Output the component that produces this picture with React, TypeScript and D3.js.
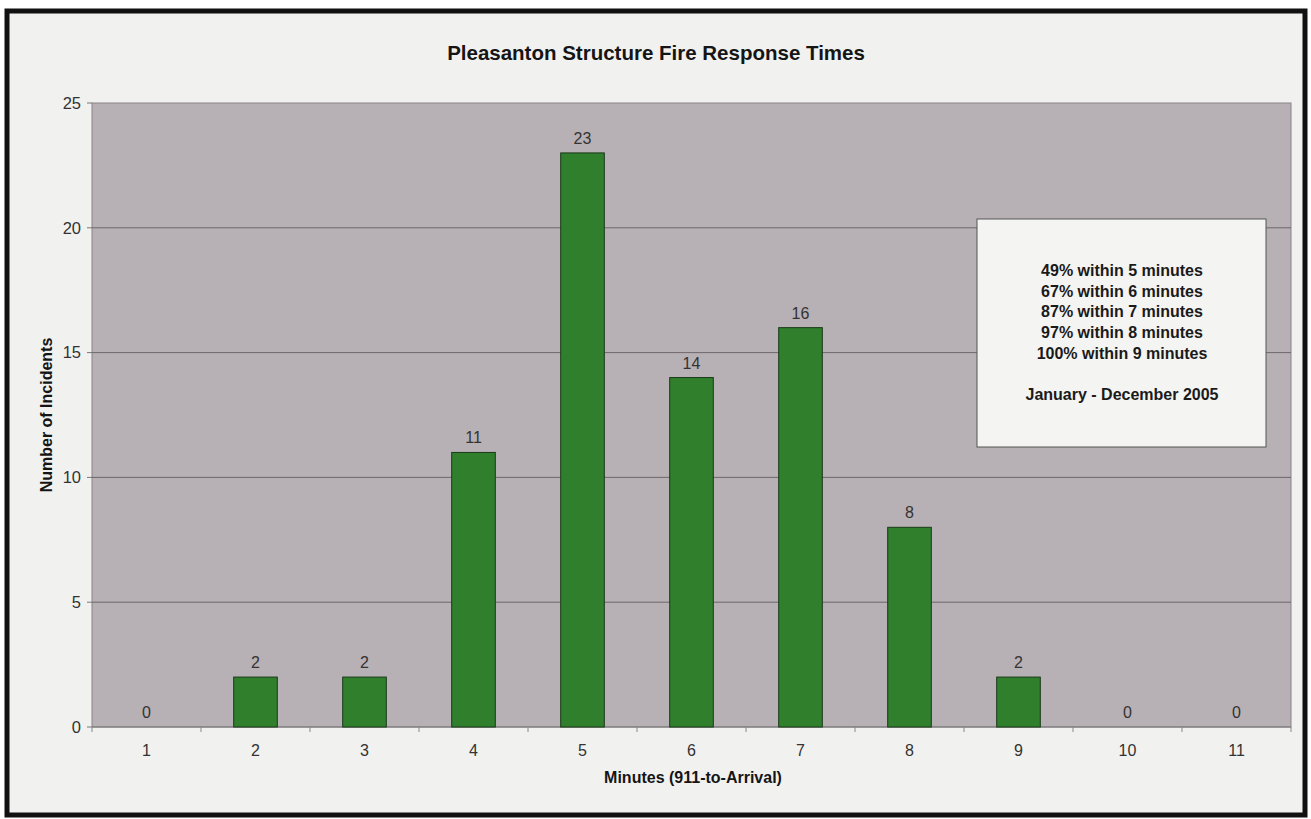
import React from "react";
import * as d3 from "d3";

const categories = ["1", "2", "3", "4", "5", "6", "7", "8", "9", "10", "11"];
const incidents = [0, 2, 2, 11, 23, 14, 16, 8, 2, 0, 0];
const yTicks = [0, 5, 10, 15, 20, 25];
const legendLines = [
  "49% within 5 minutes",
  "67% within 6 minutes",
  "87% within 7 minutes",
  "97% within 8 minutes",
  "100% within 9 minutes",
];
const legendFooter = "January - December 2005";
const title = "Pleasanton Structure Fire Response Times";
const xTitle = "Minutes (911-to-Arrival)";
const yTitle = "Number of Incidents";

export default function App() {
  const W = 1311, H = 819;
  const left = 92, right = 1291, top = 103, bottom = 727;
  const x = d3.scaleBand<string>().domain(categories).range([left, right]).paddingInner(0.6).paddingOuter(0.3);
  const xb = d3.scaleBand<string>().domain(categories).range([left, right]);
  const y = d3.scaleLinear().domain([0, 25]).range([bottom, top]);
  const font = "Liberation Sans, Arial, sans-serif";
  return (
    <svg width={W} height={H} style={{ position: "absolute", left: 0, top: 0 }} fontFamily={font}>
      <rect x={0} y={0} width={W} height={H} fill="#ffffff" />
      <rect x={7} y={11} width={1298} height={804} fill="#f1f1ef" stroke="#111" strokeWidth={5} />
      <text x={656} y={60} textAnchor="middle" fontSize={20.5} fontWeight="bold" fill="#151515">{title}</text>
      <rect x={left} y={top} width={right - left} height={bottom - top} fill="#b7b0b4" stroke="#8a8488" strokeWidth={1} />
      {yTicks.filter(t => t > 0 && t < 25).map(t => (
        <line key={t} x1={left} x2={right} y1={y(t)} y2={y(t)} stroke="#5a5458" strokeWidth={0.8} />
      ))}
      {yTicks.map(t => (
        <g key={"yt" + t}>
          <line x1={left - 5} x2={left} y1={y(t)} y2={y(t)} stroke="#777" />
          <text x={left - 11} y={y(t)} dy="0.35em" textAnchor="end" fontSize={16.5} fill="#333">{t}</text>
        </g>
      ))}
      <line x1={left} x2={right} y1={bottom} y2={bottom} stroke="#777" />
      {categories.map((c) => (
        <line key={"xt" + c} x1={(xb(c) as number)} x2={(xb(c) as number)} y1={bottom} y2={bottom + 5} stroke="#888" />
      ))}
      <line x1={right} x2={right} y1={bottom} y2={bottom + 5} stroke="#888" />
      {categories.map((c, i) => {
        const v = incidents[i];
        const bx = x(c) as number;
        const cx = (xb(c) as number) + xb.bandwidth() / 2;
        return (
          <g key={"b" + c}>
            {v > 0 && (
              <rect x={bx} y={y(v)} width={x.bandwidth()} height={y(0) - y(v)} fill="#2f7f2c" stroke="#1a3a18" strokeWidth={1} />
            )}
            <text x={cx} y={y(v) - 9} textAnchor="middle" fontSize={16} fill="#333">{v}</text>
            <text x={cx} y={bottom + 29} textAnchor="middle" fontSize={16} fill="#333">{c}</text>
          </g>
        );
      })}
      <text x={693} y={783} textAnchor="middle" fontSize={16} fontWeight="bold" fill="#151515">{xTitle}</text>
      <text transform={`translate(52,${415}) rotate(-90)`} textAnchor="middle" fontSize={16} fontWeight="bold" fill="#151515">{yTitle}</text>
      <rect x={977} y={219} width={289} height={228} fill="#f4f4f2" stroke="#555" strokeWidth={1} />
      {legendLines.map((l, i) => (
        <text key={l} x={1122} y={276 + i * 20.7} textAnchor="middle" fontSize={16} fontWeight="bold" fill="#1a1a1a">{l}</text>
      ))}
      <text x={1122} y={400} textAnchor="middle" fontSize={16} fontWeight="bold" fill="#1a1a1a">{legendFooter}</text>
    </svg>
  );
}
